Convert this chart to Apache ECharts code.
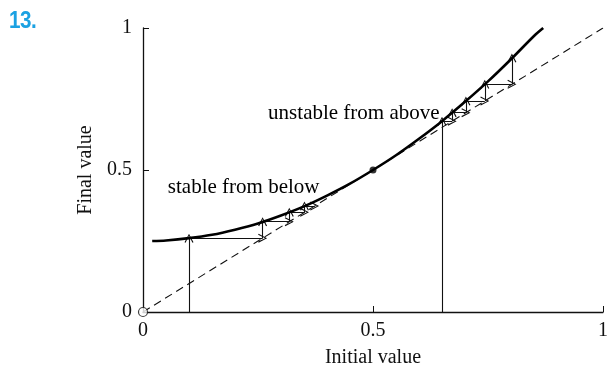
<!DOCTYPE html>
<html>
<head>
<meta charset="utf-8">
<script src="https://cdn.jsdelivr.net/npm/echarts@6/dist/echarts.min.js"></script>
<style>
html,body{margin:0;padding:0;background:#fff;}
#main{width:608px;height:368px;position:relative;}
#num{position:absolute;left:9px;top:6px;font-family:"Liberation Sans",Arial,sans-serif;font-weight:bold;font-size:24px;color:#1ba1e2;transform:scaleX(0.86);transform-origin:left top;letter-spacing:-0.5px;}
</style>
</head>
<body>
<div id="main"></div>
<div id="num">13.</div>
<script>
// Tick labels
var xTicks = [0, 0.5, 1];
var yTicks = [0, 0.5, 1];
// Curve (final value vs initial value)
var curveX = [0.02, 0.05, 0.1, 0.15, 0.2, 0.25, 0.3, 0.35, 0.4, 0.45, 0.5, 0.55, 0.6, 0.65, 0.7, 0.75, 0.8, 0.85, 0.87];
var curveY = [0.25, 0.252, 0.26, 0.272, 0.29, 0.312, 0.34, 0.372, 0.41, 0.452, 0.5, 0.552, 0.61, 0.672, 0.74, 0.812, 0.89, 0.972, 1.0];
// Diagonal (final = initial)
var diagX = [0, 1];
var diagY = [0, 1];
// Cobweb from below
var belowX = [0.1, 0.1, 0.26, 0.26, 0.318, 0.318, 0.351, 0.351, 0.373];
var belowY = [0, 0.26, 0.26, 0.318, 0.318, 0.351, 0.351, 0.373, 0.373];
// Cobweb from above
var aboveX = [0.65, 0.65, 0.672, 0.672, 0.702, 0.702, 0.743, 0.743, 0.802, 0.802];
var aboveY = [0, 0.672, 0.672, 0.702, 0.702, 0.743, 0.743, 0.802, 0.802, 0.894];
// Special points
var openPt = [0, 0];
var fixedPt = [0.5, 0.5];
// Annotations
var annoText = ['stable from below', 'unstable from above'];
var annoX = [0.054, 0.272];
var annoY = [0.44, 0.70];

function zip(xs, ys){ return xs.map(function(x,i){ return [x, ys[i]]; }); }
function segs(xs, ys){
  var out = [];
  for (var i = 0; i < xs.length - 1; i++) out.push({coords: [[xs[i], ys[i]], [xs[i+1], ys[i+1]]]});
  return out;
}
var arrowPath = 'path://M5,0 L10,10 L8.8,10.6 L5,2.4 L1.2,10.6 L0,10 Z';
var serif = '"Liberation Serif","Times New Roman",serif';

var chart = echarts.init(document.getElementById('main'), null, {renderer: 'canvas'});
chart.setOption({
  animation: false,
  backgroundColor: '#fff',
  grid: {left: 143, right: 5, top: 28, bottom: 56, containLabel: false, outerBoundsMode: 'none'},
  xAxis: {
    type: 'value', min: 0, max: 1, interval: 0.5,
    name: 'Initial value', nameLocation: 'middle', nameGap: 36,
    nameTextStyle: {fontFamily: serif, fontSize: 20, color: '#111'},
    axisLine: {lineStyle: {color: '#111', width: 1.3}},
    axisTick: {inside: true, length: 6, lineStyle: {color: '#111'}},
    axisLabel: {fontFamily: serif, fontSize: 20, color: '#111', margin: 9,
      formatter: function(v){ return xTicks.indexOf(v) >= 0 ? String(v) : ''; }},
    splitLine: {show: false}
  },
  yAxis: {
    type: 'value', min: 0, max: 1, interval: 0.5,
    name: 'Final value', nameLocation: 'middle', nameGap: 47, nameRotate: 90,
    nameTextStyle: {fontFamily: serif, fontSize: 20, color: '#111'},
    axisLine: {lineStyle: {color: '#111', width: 1.3}},
    axisTick: {inside: true, length: 6, lineStyle: {color: '#111'}},
    axisLabel: {fontFamily: serif, fontSize: 20, color: '#111', margin: 11, padding: [5, 0, 0, 0],
      formatter: function(v){ return yTicks.indexOf(v) >= 0 ? String(v) : ''; }},
    splitLine: {show: false}
  },
  series: [
    {type: 'line', data: zip(diagX, diagY), symbol: 'none',
     lineStyle: {color: '#111', width: 1.1, type: [8, 5]}, z: 2},
    {type: 'line', data: zip(curveX, curveY), symbol: 'none', smooth: 0.3,
     lineStyle: {color: '#000', width: 2.6}, z: 4},
    {type: 'lines', coordinateSystem: 'cartesian2d', data: segs(belowX, belowY),
     symbol: ['none', arrowPath], symbolSize: [7, 9],
     lineStyle: {color: '#111', width: 1.1, opacity: 1}, z: 3},
    {type: 'lines', coordinateSystem: 'cartesian2d', data: segs(aboveX, aboveY),
     symbol: ['none', arrowPath], symbolSize: [7, 9],
     lineStyle: {color: '#111', width: 1.1, opacity: 1}, z: 3},
    {type: 'scatter', data: [openPt], symbol: 'circle', symbolSize: 9,
     itemStyle: {color: '#fff', borderColor: '#111', borderWidth: 1.2}, z: 6},
    {type: 'scatter', data: [fixedPt], symbol: 'circle', symbolSize: 7,
     itemStyle: {color: '#000'}, z: 6},
    {type: 'scatter', symbolSize: 0, z: 7, silent: true,
     data: annoText.map(function(t, i){ return {value: [annoX[i], annoY[i]], name: t}; }),
     label: {show: true, position: 'right', distance: 0, formatter: '{b}',
       fontFamily: serif, fontSize: 21, color: '#000', opacity: 1},
     itemStyle: {opacity: 1}, emphasis: {disabled: true}}
  ]
});
</script>
</body>
</html>
